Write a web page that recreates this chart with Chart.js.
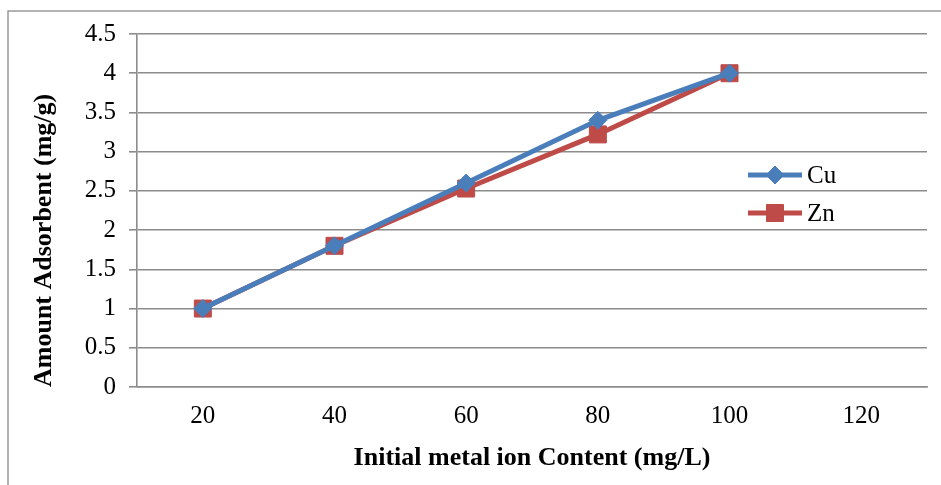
<!DOCTYPE html>
<html>
<head>
<meta charset="utf-8">
<script src="https://cdn.jsdelivr.net/npm/chart.js@4.4.1/dist/chart.umd.min.js"></script>
<style>
  html, body { margin: 0; padding: 0; background: #ffffff; }
  #wrap { width: 941px; height: 485px; position: relative; }
</style>
</head>
<body>
<div id="wrap"><canvas id="adsorption-chart" width="941" height="485"></canvas></div>
<script>
// initial concentration categories (120 has no measurement)
const concentrations = ['20', '40', '60', '80', '100', '120'];
const cuValues = [1.0, 1.8, 2.6, 3.4, 4.0, null];
const znValues = [1.0, 1.8, 2.53, 3.22, 4.0, null];
const yTicks = [0, 0.5, 1, 1.5, 2, 2.5, 3, 3.5, 4, 4.5];

const FONT = '"Liberation Serif", "Times New Roman", serif';
const GRID = '#8c8c8c';

// outer frame around the whole figure
const framePlugin = {
    id: 'frame',
    beforeDraw(chart) {
        const ctx = chart.ctx;
        ctx.save();
        ctx.strokeStyle = '#9a9a9a';
        ctx.lineWidth = 1.5;
        ctx.beginPath();
        ctx.moveTo(8, chart.height);
        ctx.lineTo(8, 11);
        ctx.lineTo(chart.width, 11);
        ctx.stroke();
        ctx.restore();
    }
};

// legend sitting inside the plot on the right
const insideLegend = {
    id: 'insideLegend',
    afterDatasetsDraw(chart) {
        const ctx = chart.ctx;
        const x0 = 748, x1 = 802, rows = [175, 213];
        ctx.save();
        chart.data.datasets.forEach((ds, i) => {
            const y = rows[i];
            ctx.strokeStyle = ds.borderColor;
            ctx.lineWidth = ds.borderWidth;
            ctx.beginPath();
            ctx.moveTo(x0, y);
            ctx.lineTo(x1, y);
            ctx.stroke();
            ctx.fillStyle = ds.backgroundColor;
            ctx.strokeStyle = ds.backgroundColor;
            ctx.lineWidth = 1;
            Chart.helpers.drawPoint(ctx, {
                pointStyle: ds.pointStyle,
                radius: ds.pointRadius,
                rotation: 0,
                borderWidth: 1
            }, (x0 + x1) / 2, y);
            ctx.fillStyle = '#000000';
            ctx.font = '25px ' + FONT;
            ctx.textAlign = 'left';
            ctx.textBaseline = 'middle';
            ctx.fillText(ds.label, x1 + 5, y + 1);
        });
        ctx.restore();
    }
};

const ctx = document.getElementById('adsorption-chart').getContext('2d');
new Chart(ctx, {
    type: 'line',
    data: {
        labels: concentrations,
        datasets: [{
            label: 'Cu',
            data: cuValues,
            borderColor: '#4a7ebb',
            backgroundColor: '#4a7ebb',
            borderWidth: 5,
            pointStyle: 'rectRot',
            pointRadius: 9,
            pointBorderWidth: 1,
            tension: 0
        }, {
            label: 'Zn',
            data: znValues,
            borderColor: '#be4b48',
            backgroundColor: '#be4b48',
            borderWidth: 5,
            pointStyle: 'rect',
            pointRadius: 12,
            pointBorderWidth: 1,
            tension: 0
        }]
    },
    options: {
        responsive: false,
        animation: false,
        layout: { padding: { left: 25, right: 14, top: 34, bottom: 7 } },
        plugins: {
            legend: { display: false },
            tooltip: { enabled: false }
        },
        scales: {
            x: {
                offset: true,
                grid: { display: false, drawTicks: false },
                border: { display: true, color: GRID, width: 1.6 },
                ticks: { color: '#000000', padding: 14, font: { family: FONT, size: 25 } },
                title: {
                    display: true,
                    text: 'Initial metal ion Content (mg/L)',
                    color: '#000000',
                    font: { family: FONT, size: 26, weight: 'bold' },
                    padding: { top: 4, bottom: 4 }
                },
                afterFit(scale) { scale.height = 91; }
            },
            y: {
                min: 0,
                max: 4.5,
                afterBuildTicks(scale) { scale.ticks = yTicks.map(v => ({ value: v })); },
                grid: { color: GRID, lineWidth: 1.6, tickLength: 8, drawTicks: true },
                border: { display: true, color: GRID, width: 1.6 },
                ticks: {
                    color: '#000000',
                    padding: 13,
                    font: { family: FONT, size: 25 },
                    callback: v => String(v)
                },
                title: {
                    display: true,
                    align: 'start',
                    text: 'Amount Adsorbent (mg/g)',
                    color: '#000000',
                    font: { family: FONT, size: 26, weight: 'bold' },
                    padding: { top: 4, bottom: 4 }
                },
                afterFit(scale) { scale.width = 112; }
            }
        }
    },
    plugins: [framePlugin, insideLegend]
});
</script>
</body>
</html>
